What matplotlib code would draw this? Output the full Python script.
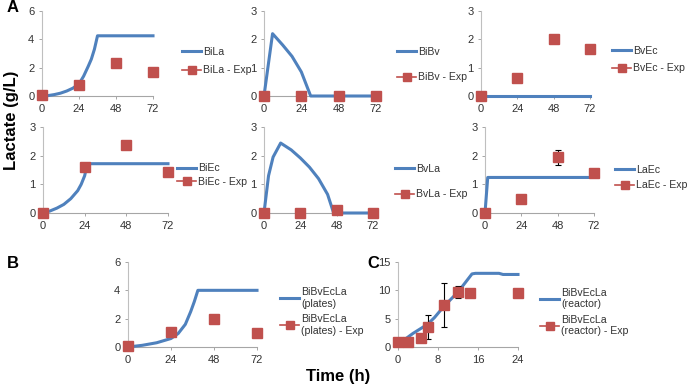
import matplotlib
matplotlib.use("Agg")
import matplotlib.pyplot as plt
from matplotlib.lines import Line2D

plt.rcParams['font.family'] = ['Liberation Sans', 'DejaVu Sans']

BLUE = '#4F81BD'
RED = '#C0504D'
GRAY_TXT = '#333333'

# ---- data ----
t_exp = [0, 24, 48, 72]

bila_t = [0, 4, 8, 12, 16, 20, 24, 27, 30, 32, 34, 36, 72]
bila_y = [0, 0.03, 0.1, 0.2, 0.35, 0.55, 0.85, 1.4, 2.1, 2.6, 3.3, 4.25, 4.25]
bila_exp = [0.05, 0.8, 2.35, 1.67]

bibv_t = [0, 5.5, 12, 18, 24, 30, 72]
bibv_y = [0, 2.2, 1.8, 1.4, 0.85, 0, 0]
bibv_exp = [0, 0, 0, 0]

bvec_t = [0, 72]
bvec_y = [0, 0]
bvec_exp = [0, 0.64, 2.0, 1.67]

biec_t = [0, 4, 8, 12, 16, 20, 22, 24, 25.5, 72]
biec_y = [0, 0.07, 0.17, 0.3, 0.5, 0.78, 1.0, 1.3, 1.72, 1.72]
biec_exp = [0, 1.6, 2.38, 1.43]
biec_err = [0, 0.1, 0, 0]

bvla_t = [0, 3, 6, 11, 18, 24, 30, 36, 42, 46, 72]
bvla_y = [0, 1.3, 1.95, 2.44, 2.2, 1.92, 1.6, 1.2, 0.65, 0, 0]
bvla_exp = [0, 0, 0.1, 0]

laec_t = [0, 1.8, 72]
laec_y = [0, 1.24, 1.24]
laec_exp = [0, 0.49, 1.94, 1.4]
laec_err = [0, 0, 0.26, 0]

plates_t = [0, 8, 16, 24, 28, 32, 35, 37, 39, 72]
plates_y = [0, 0.12, 0.3, 0.6, 0.95, 1.6, 2.5, 3.2, 4.0, 4.0]
plates_exp = [0.05, 1.05, 1.95, 1.0]

reactor_t = [0, 1.3, 3, 5.9, 7.3, 9.2, 12, 14.8, 15.5, 20.2, 21, 24]
reactor_y = [0.9, 1.3, 2.4, 4.0, 5.2, 7.2, 9.7, 12.9, 13.0, 13.0, 12.8, 12.8]
reactor_exp_t = [0, 2, 4.5, 5.9, 9.2, 12, 14.3, 24]
reactor_exp = [0.9, 0.9, 1.6, 3.6, 7.4, 9.7, 9.5, 9.5]
reactor_err = [0, 0, 0.3, 2.1, 3.9, 1.0, 0.7, 0]

W, H = 688, 388
fig = plt.figure(figsize=(W / 100, H / 100), dpi=100)


def px_axes(x0, x1, y0, y1):
    return fig.add_axes([x0 / W, 1 - y1 / H, (x1 - x0) / W, (y1 - y0) / H])


def panel(rect, mt, my, et, ey, names, ymax, yticks, xticks, leg_x, leg_y, spacing, err=None):
    ax = px_axes(*rect)
    ax.plot(mt, my, color=BLUE, lw=2.2, solid_joinstyle='round', clip_on=False, zorder=3)
    if err is not None:
        ax.errorbar(et, ey, yerr=err, fmt='none', ecolor='black', elinewidth=0.8,
                    capsize=2.5, capthick=0.8, zorder=4, clip_on=False)
    ax.plot(et, ey, ls='none', marker='s', ms=6.5, color=RED, mec=RED,
            clip_on=False, zorder=5)
    ax.set_xlim(xticks[0], xticks[-1])
    ax.set_ylim(0, ymax)
    ax.set_xticks(xticks)
    ax.set_yticks(yticks)
    for s in ['top', 'right']:
        ax.spines[s].set_visible(False)
    ax.spines['left'].set_color('#BFBFBF')
    ax.spines['bottom'].set_color('#A6A6A6')
    ax.tick_params(axis='both', labelsize=8, colors='#A6A6A6', labelcolor=GRAY_TXT,
                   length=2.5, width=0.7, pad=3)
    ax.set_facecolor('none')
    handles = [Line2D([], [], color=BLUE, lw=2.2),
               Line2D([], [], color=RED, lw=1.2, marker='s', ms=6, mec=RED)]
    ax.legend(handles, names, loc='center left',
              bbox_to_anchor=(leg_x / W, 1 - leg_y / H), bbox_transform=fig.transFigure,
              frameon=False, fontsize=7.6, handlelength=1.8, handletextpad=0.2,
              labelspacing=spacing, borderpad=0, borderaxespad=0, labelcolor=GRAY_TXT)
    return ax


x72 = [0, 24, 48, 72]
panel((42, 153, 11, 96), bila_t, bila_y, t_exp, bila_exp, ['BiLa', 'BiLa - Exp'],
      6, [0, 2, 4, 6], x72, 182, 61, 0.85)
panel((264, 376, 11, 96), bibv_t, bibv_y, t_exp, bibv_exp, ['BiBv', 'BiBv - Exp'],
      3, [0, 1, 2, 3], x72, 397, 64.5, 1.5)
panel((481, 590, 11, 96), bvec_t, bvec_y, t_exp, bvec_exp, ['BvEc', 'BvEc - Exp'],
      3, [0, 1, 2, 3], x72, 612, 59.5, 0.75)
panel((43, 168, 127, 213), biec_t, biec_y, t_exp, biec_exp, ['BiEc', 'BiEc - Exp'],
      3, [0, 1, 2, 3], x72, 177, 175, 0.3, err=biec_err)
panel((264, 373, 127, 213), bvla_t, bvla_y, t_exp, bvla_exp, ['BvLa', 'BvLa - Exp'],
      3, [0, 1, 2, 3], x72, 395, 181.5, 1.5)
panel((485, 594, 127, 213), laec_t, laec_y, t_exp, laec_exp, ['LaEc', 'LaEc - Exp'],
      3, [0, 1, 2, 3], x72, 615, 177.5, 0.55, err=laec_err)
panel((128, 257, 262, 347), plates_t, plates_y, t_exp, plates_exp,
      ['BiBvEcLa\n(plates)', 'BiBvEcLa\n(plates) - Exp'],
      6, [0, 2, 4, 6], x72, 280, 311.5, 0.5)
panel((398, 518, 262, 347), reactor_t, reactor_y, reactor_exp_t, reactor_exp,
      ['BiBvEcLa\n(reactor)', 'BiBvEcLa\n(reactor) - Exp'],
      15, [0, 5, 10, 15], [0, 8, 16, 24], 540, 312, 0.5, err=reactor_err)

fig.text(12 / W, 1 - 120 / H, 'Lactate (g/L)', rotation=90, ha='center', va='center',
         fontsize=12, fontweight='bold')
fig.text(338 / W, 1 - 377 / H, 'Time (h)', ha='center', va='center',
         fontsize=12, fontweight='bold')
fig.text(7 / W, 1 - 8 / H, 'A', ha='left', va='center', fontsize=12, fontweight='bold')
fig.text(7 / W, 1 - 263 / H, 'B', ha='left', va='center', fontsize=12, fontweight='bold')
fig.text(367 / W, 1 - 263 / H, 'C', ha='left', va='center', fontsize=12, fontweight='bold')

fig.savefig('out.png', dpi=100)
